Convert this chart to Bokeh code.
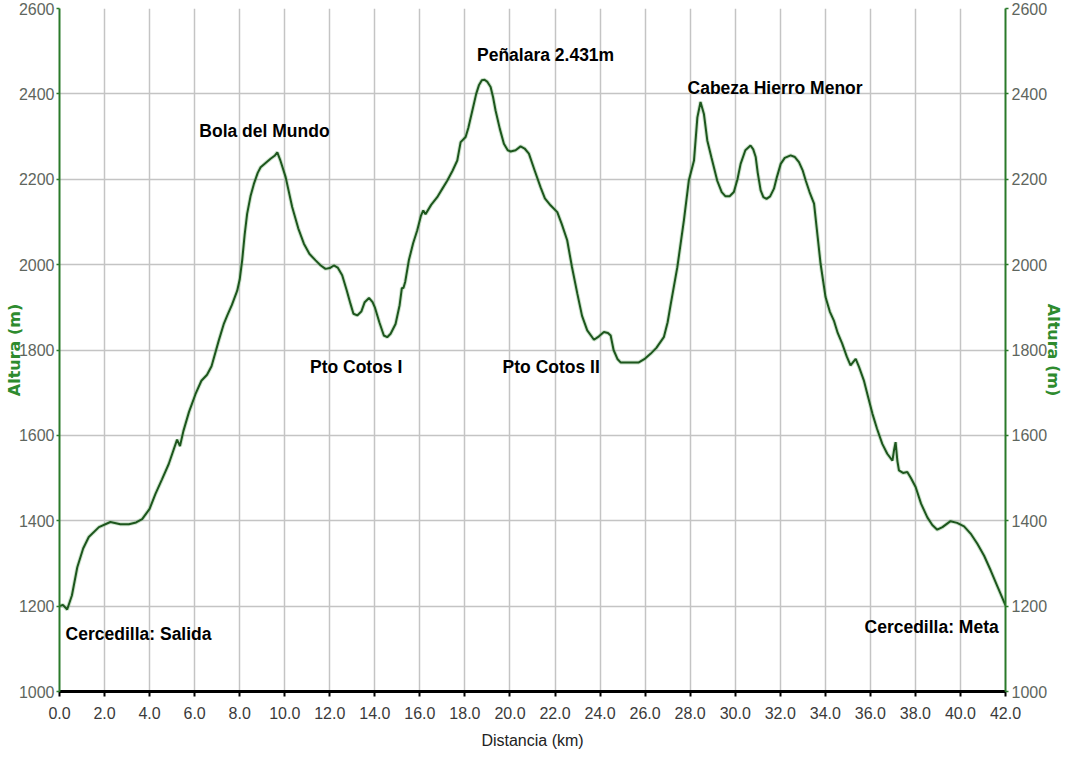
from bokeh.plotting import figure
from bokeh.models import ColumnDataSource, LinearAxis, FixedTicker, PrintfTickFormatter, Range1d
from bokeh.core.properties import value
from bokeh.embed import file_html
from bokeh.resources import INLINE

# ---- data ----
distance_km = [0.0, 0.15, 0.34, 0.55, 0.79, 1.05, 1.30, 1.75, 2.26, 2.7, 3.08, 3.4, 3.67, 4.0, 4.26,
               4.55, 4.85, 5.22, 5.35, 5.5, 5.75, 6.04, 6.3, 6.55, 6.75, 7.07, 7.3, 7.45, 7.65, 7.89,
               8.0, 8.11, 8.22, 8.33, 8.48, 8.63, 8.8, 8.93, 9.15, 9.37, 9.55, 9.67, 9.8, 10.04, 10.33,
               10.6, 10.85, 11.1, 11.37, 11.6, 11.81, 12.0, 12.18, 12.35, 12.55, 12.75, 12.92, 13.05,
               13.22, 13.4, 13.55, 13.74, 13.9, 14.0, 14.2, 14.4, 14.55, 14.7, 14.92, 15.1, 15.2, 15.27,
               15.35, 15.51, 15.7, 15.88, 16.05, 16.15, 16.25, 16.5, 16.77, 17.0, 17.22, 17.45, 17.66,
               17.75, 17.81, 18.03, 18.15, 18.33, 18.5, 18.62, 18.75, 18.87, 19.0, 19.14, 19.25, 19.36,
               19.55, 19.73, 19.9, 20.03, 20.25, 20.47, 20.65, 20.84, 21.1, 21.36, 21.55, 21.8, 22.1,
               22.3, 22.54, 22.75, 22.99, 23.2, 23.43, 23.73, 23.95, 24.17, 24.35, 24.47, 24.6, 24.77,
               24.91, 25.3, 25.72, 26.0, 26.24, 26.5, 26.83, 27.0, 27.13, 27.43, 27.72, 27.94, 28.17,
               28.32, 28.46, 28.61, 28.76, 28.95, 29.2, 29.4, 29.57, 29.75, 29.94, 30.1, 30.24, 30.45,
               30.68, 30.8, 30.91, 31.0, 31.13, 31.25, 31.39, 31.55, 31.72, 31.85, 32.02, 32.2, 32.46,
               32.65, 32.83, 33.0, 33.13, 33.3, 33.5, 33.65, 33.79, 34.01, 34.2, 34.38, 34.55, 34.75,
               34.95, 35.12, 35.35, 35.5, 35.71, 35.9, 36.09, 36.3, 36.53, 36.75, 36.98, 37.05, 37.12,
               37.2, 37.27, 37.45, 37.64, 37.8, 38.01, 38.25, 38.53, 38.75, 38.97, 39.2, 39.56, 39.85,
               40.16, 40.45, 40.75, 41.05, 41.34, 41.65, 42.0]
altitude_m = [1200, 1203, 1192, 1225, 1291, 1335, 1362, 1385, 1397, 1392, 1392, 1396, 1404, 1428, 1463,
              1497, 1533, 1590, 1575, 1610, 1655, 1697, 1728, 1742, 1762, 1822, 1862, 1881, 1905, 1939,
              1965, 2010, 2070, 2119, 2160, 2189, 2215, 2228, 2238, 2248, 2255, 2263, 2245, 2205, 2135,
              2085, 2049, 2025, 2010, 1998, 1990, 1992, 1998, 1993, 1975, 1940, 1908, 1885,
              1881, 1890, 1912, 1922, 1912, 1900, 1865, 1834, 1830, 1838, 1861, 1905, 1945, 1945,
              1960, 2010, 2050, 2080, 2115, 2127, 2118, 2140, 2158, 2178, 2197, 2220, 2244,
              2270, 2287, 2299, 2320, 2361, 2400, 2420, 2432, 2433, 2428, 2416, 2392, 2361,
              2318, 2283, 2268, 2265, 2268, 2277, 2272, 2260, 2220, 2181, 2155, 2139, 2123,
              2095, 2057, 1995, 1932, 1880, 1846, 1824, 1832, 1842, 1840, 1834, 1800, 1779,
              1771, 1771, 1771, 1780, 1791, 1805, 1830, 1865, 1905, 1994, 2103, 2197, 2244,
              2345, 2381, 2353, 2291, 2250, 2197, 2170, 2160, 2160, 2170, 2200, 2236, 2268,
              2279, 2270, 2252, 2215, 2174, 2158, 2154, 2160, 2178, 2205, 2236, 2250, 2256,
              2252, 2240, 2220, 2197, 2170, 2143, 2070, 2002, 1924, 1890, 1869, 1840, 1815,
              1785, 1764, 1779, 1760, 1729, 1690, 1651, 1615, 1580, 1557, 1541, 1565, 1584,
              1540, 1518, 1512, 1514, 1500, 1479, 1440, 1408, 1390, 1379, 1385, 1399, 1395,
              1387, 1370, 1346, 1318, 1284, 1245, 1202]

x_ticks = list(range(0, 43, 2))
y_ticks = list(range(1000, 2601, 200))

place_names = ["Bola del Mundo", "Peñalara 2.431m", "Pto Cotos I", "Pto Cotos II",
               "Cabeza Hierro Menor", "Cercedilla: Salida", "Cercedilla: Meta"]
place_km = [9.10, 21.58, 13.17, 21.83, 31.77, 3.51, 38.72]
place_alt = [2314, 2492, 1761, 1761, 2413, 1134, 1150]

# ---- styling ----
TICK_FONT = "Liberation Sans"
GREEN = "#2a7a2a"

p = figure(width=1066, height=758, x_range=Range1d(0, 42), y_range=Range1d(1000, 2600),
           output_backend="svg", toolbar_location=None,
           min_border_left=59, min_border_right=61, min_border_top=8, min_border_bottom=67)
p.title.visible = False
p.outline_line_color = None
p.background_fill_color = "white"
p.border_fill_color = "white"

for g, t in ((p.xgrid, x_ticks), (p.ygrid, y_ticks)):
    g.ticker = FixedTicker(ticks=t)
    g.grid_line_color = "#c4c4c4"
    g.grid_line_width = 1.5

xa = p.xaxis[0]
xa.ticker = FixedTicker(ticks=x_ticks)
xa.formatter = PrintfTickFormatter(format="%.1f")
xa.axis_line_color = "black"
xa.axis_line_width = 3
xa.major_tick_line_color = "black"
xa.major_tick_line_width = 2
xa.major_tick_out = 5
xa.major_tick_in = 0
xa.minor_tick_line_color = None
xa.major_label_text_font = TICK_FONT
xa.major_label_text_font_size = "16px"
xa.major_label_text_color = "#3a3a3a"
xa.major_label_standoff = 10
xa.axis_label = "Distancia (km)"
xa.axis_label_text_font = TICK_FONT
xa.axis_label_text_font_size = "16px"
xa.axis_label_text_font_style = "normal"
xa.axis_label_text_color = "#222222"
xa.axis_label_standoff = 10

ya = p.yaxis[0]
ya_r = LinearAxis()
p.add_layout(ya_r, "right")
for ax in (ya, ya_r):
    ax.ticker = FixedTicker(ticks=y_ticks)
    ax.axis_line_color = GREEN
    ax.axis_line_width = 2
    ax.major_tick_line_color = GREEN
    ax.major_tick_line_width = 1.5
    ax.major_tick_out = 3
    ax.major_tick_in = 0
    ax.minor_tick_line_color = None
    ax.major_label_text_font = TICK_FONT
    ax.major_label_text_font_size = "16px"
    ax.major_label_text_color = "#5e665e"
    ax.major_label_standoff = 2
    ax.axis_label = "Altura (m)"
    ax.axis_label_text_font = "DejaVu Sans"
    ax.axis_label_text_font_style = "bold"
    ax.axis_label_text_font_size = "16px"
    ax.axis_label_text_color = "#2e8b2e"
ya.axis_label_standoff = -8
ya_r.axis_label_standoff = -6
ya_r.major_label_standoff = 3

# profile line
p.line(distance_km, altitude_m, line_color="#6fb06f", line_width=4, line_alpha=0.35)
p.line(distance_km, altitude_m, line_color="#1d561d", line_width=2)

# place labels
src = ColumnDataSource(dict(x=place_km, y=place_alt, name=place_names))
p.text(x="x", y="y", text="name", source=src, text_font=value("Liberation Sans"),
       text_font_style="bold", text_font_size="17.5px", text_color="black",
       text_align="center", text_baseline="middle")

open("out.html", "w").write(file_html(p, INLINE))
